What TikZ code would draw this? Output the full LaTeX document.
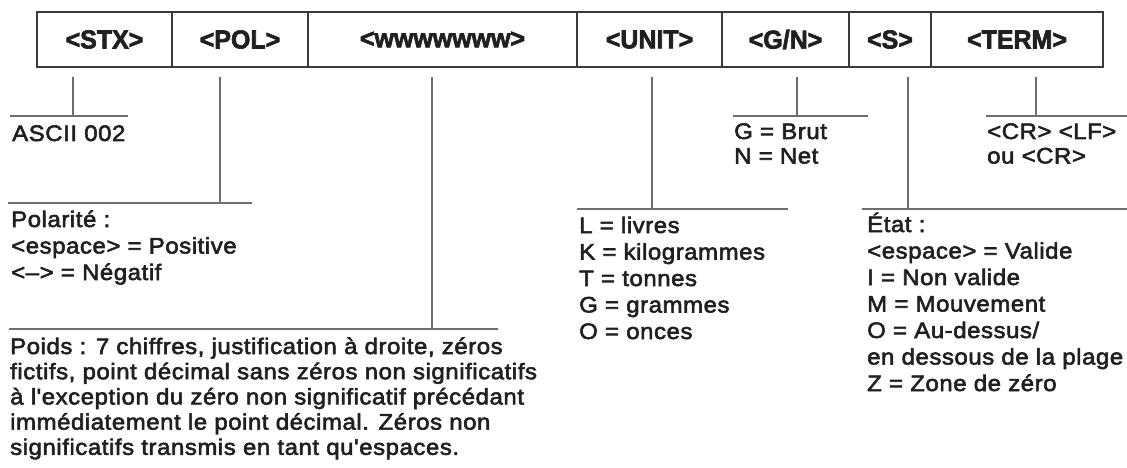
\documentclass[tikz,border=0pt]{standalone}
\usepackage{fontspec}
\newfontfamily\labfont[FakeStretch=0.96,FakeBold=2.5,Ligatures=TeXOff]{Liberation Sans}
\newfontfamily\bodyfont[FakeBold=2.6,FakeStretch=1.07,LetterSpace=2.5,Ligatures=TeXOff]{Liberation Sans}
\definecolor{ink}{HTML}{231F20}
\definecolor{rule}{HTML}{6D6E70}
\definecolor{boxline}{HTML}{3A3A3C}
\tikzset{
  x=1pt,y=-1pt,
  field/.style={draw=boxline,line width=1.3pt,minimum height=55pt,inner sep=0pt,
    text=ink,font=\labfont\bfseries\fontsize{26}{28}\selectfont},
  leader/.style={draw=rule,line width=1.3pt},
  desc/.style={anchor=base west,inner sep=0pt,text=ink,
    font=\bodyfont\fontsize{22.4}{26.5}\selectfont}
}
% lines separated by \cr; baseline of the block = first line's baseline
\newcommand{\lines}[2]{\vtop{\lineskiplimit=-100pt\baselineskip=#1pt\halign{##\hfil\cr#2\crcr}}}
\begin{document}
\begin{tikzpicture}
\useasboundingbox (0,0) rectangle (1127,468);
% fields
\node[field,minimum width=135pt] (stx)  at (104.5,39.5) {<STX>};
\node[field,minimum width=136pt] (pol)  at (240,39.5)   {<POL>};
\node[field,minimum width=269pt] (www)  at (442.5,39.5) {<wwwwwww>};
\node[field,minimum width=145pt] (unit) at (649.5,39.5) {<UNIT>};
\node[field,minimum width=127pt] (gn)   at (785.5,39.5) {<G/N>};
\node[field,minimum width=82pt]  (st)   at (890,39.5)   {<S>};
\node[field,minimum width=172pt] (term) at (1017,39.5)  {<TERM>};
% leader coordinates
\coordinate (stxA) at (73,77);   \coordinate (stxB) at (73,116);
\coordinate (stxL) at (10,116);  \coordinate (stxR) at (128,116);
\coordinate (polA) at (220,77);  \coordinate (polB) at (220,203);
\coordinate (polL) at (8,203);   \coordinate (polR) at (252,203);
\coordinate (wwwA) at (432,77);  \coordinate (wwwB) at (432,329);
\coordinate (wwwL) at (9,329);   \coordinate (wwwR) at (498,329);
\coordinate (unitA) at (652,77); \coordinate (unitB) at (652,209);
\coordinate (unitL) at (577,209);\coordinate (unitR) at (788,209);
\coordinate (gnA) at (797,77);   \coordinate (gnB) at (797,116);
\coordinate (gnL) at (733,116);  \coordinate (gnR) at (868,116);
\coordinate (stA) at (908,77);   \coordinate (stB) at (908,209);
\coordinate (stL) at (862,209);  \coordinate (stR) at (1127,209);
\coordinate (termA) at (1036,77);\coordinate (termB) at (1036,116);
\coordinate (termL) at (986,116);\coordinate (termR) at (1127,116);
\foreach \n in {stx,pol,www,unit,gn,st,term}{
  \draw[leader] (\n A) -- (\n B);
  \draw[leader] (\n L) -- (\n R);
}
% descriptions
\node[desc] (tstx) at (12,141) {ASCII 002};
\node[desc] (tpol) at (11,227) {\lines{26.5}{Polarité :\cr <espace> = Positive\cr <–> = Négatif}};
\node[desc] (twww) at (10,354) {\lines{25.2}{Poids : 7 chiffres, justification à droite, zéros\cr fictifs, point décimal sans zéros non significatifs\cr à l'exception du zéro non significatif précédant\cr immédiatement le point décimal. Zéros non\cr significatifs transmis en tant qu'espaces.}};
\node[desc] (tunit) at (579,233) {\lines{26.5}{L = livres\cr K = kilogrammes\cr T = tonnes\cr G = grammes\cr O = onces}};
\node[desc] (tgn) at (734,139) {\lines{24.5}{G = Brut\cr N = Net}};
\node[desc] (tst) at (867,232) {\lines{26.5}{État :\cr <espace> = Valide\cr I = Non valide\cr M = Mouvement\cr O = Au-dessus/\cr en dessous de la plage\cr Z = Zone de zéro}};
\node[desc] (tterm) at (987,139) {\lines{24.5}{<CR> <LF>\cr ou <CR>}};
\end{tikzpicture}
\end{document}
